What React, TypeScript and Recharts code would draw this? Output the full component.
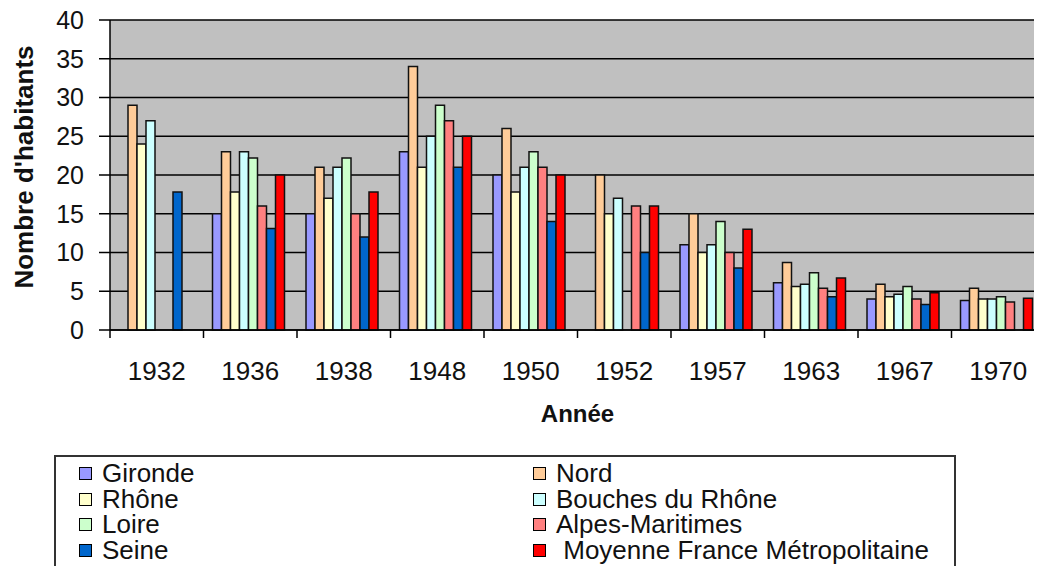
import React from "react"
import { BarChart, Bar, XAxis, YAxis, CartesianGrid } from "recharts"

// Années (catégories)
const annees = ["1932", "1936", "1938", "1948", "1950", "1952", "1957", "1963", "1967", "1970"]

// Valeurs (null = pas de barre)
const gironde = [null, 15, 15, 23, 20, null, 11, 6.1, 4.0, 3.8]
const nord = [29, 23, 21, 34, 26, 20, 15, 8.7, 5.9, 5.4]
const rhone = [24, 17.8, 17, 21, 17.8, 15, 10, 5.6, 4.3, 4.0]
const bouches = [27, 23, 21, 25, 21, 17, 11, 5.9, 4.6, 4.0]
const loire = [null, 22.2, 22.2, 29, 23, null, 14, 7.4, 5.6, 4.3]
const alpes = [null, 16, 15, 27, 21, 16, 10, 5.4, 4.0, 3.6]
const seine = [17.8, 13.1, 12, 21, 14, 10, 8, 4.3, 3.3, null]
const moyenne = [null, 20, 17.8, 25, 20, 16, 13, 6.7, 4.8, 4.1]

const yTicks = [0, 5, 10, 15, 20, 25, 30, 35, 40]

const series = [
  { key: "gironde", name: "Gironde", color: "#9999FF", values: gironde },
  { key: "nord", name: "Nord", color: "#FFCC99", values: nord },
  { key: "rhone", name: "Rhône", color: "#FFFFCC", values: rhone },
  { key: "bouches", name: "Bouches du Rhône", color: "#CCFFFF", values: bouches },
  { key: "loire", name: "Loire", color: "#CCFFCC", values: loire },
  { key: "alpes", name: "Alpes-Maritimes", color: "#FF8080", values: alpes },
  { key: "seine", name: "Seine", color: "#0066CC", values: seine },
  { key: "moyenne", name: " Moyenne France Métropolitaine", color: "#FF0000", values: moyenne },
]

// ordre de la légende (2 colonnes)
const legendLeft = ["gironde", "rhone", "loire", "seine"]
const legendRight = ["nord", "bouches", "alpes", "moyenne"]

const data = annees.map((annee, i) => {
  const row: Record<string, string | number | null> = { annee }
  series.forEach((s) => {
    row[s.key] = s.values[i]
  })
  return row
})

const FONT = "'Liberation Sans', Arial, sans-serif"
const CHART_W = 1060
const CHART_H = 566
const MARGIN = { top: 20, right: 15, left: 0, bottom: 0 }
const Y_W = 110
const PLOT_W = CHART_W - MARGIN.left - MARGIN.right - Y_W
const BAND = PLOT_W / annees.length

type TickProps = {
  x?: number
  y?: number
  index?: number
  payload?: { value: string | number }
}

// étiquette d'année centrée + petit trait entre les catégories
const XTick: React.FC<TickProps> = ({ x = 0, y = 0, index = 0, payload }) => (
  <g>
    <line x1={x - BAND / 2} x2={x - BAND / 2} y1={y} y2={y + 8} stroke="#000" strokeWidth={1.5} />
    {index === annees.length - 1 && (
      <line x1={x + BAND / 2} x2={x + BAND / 2} y1={y} y2={y + 8} stroke="#000" strokeWidth={1.5} />
    )}
    <text x={x} y={y + 50} textAnchor="middle" fontSize={26} fontFamily={FONT} fill="#111">
      {payload?.value}
    </text>
  </g>
)

const XTitle = (props: any) => {
  const vb = props.viewBox || { x: 110, y: 330, width: 935, height: 236 }
  return (
    <text
      x={vb.x + vb.width / 2}
      y={vb.y + 92}
      textAnchor="middle"
      fontSize={24}
      fontWeight="bold"
      fontFamily={FONT}
      fill="#111"
    >
      Année
    </text>
  )
}

const YTitle = (props: any) => {
  const vb = props.viewBox || { x: 0, y: 20, width: 110, height: 310 }
  const cx = vb.x + 33
  const cy = vb.y + vb.height / 2 - 8
  return (
    <text
      x={0}
      y={0}
      transform={`translate(${cx},${cy}) rotate(-90)`}
      textAnchor="middle"
      fontSize={26}
      fontWeight="bold"
      fontFamily={FONT}
      fill="#111"
    >
      Nombre d'habitants
    </text>
  )
}

const LegendItem = ({ k }: { k: string }) => {
  const s = series.find((d) => d.key === k)!
  return (
    <div style={{ display: "flex", alignItems: "center", height: 25.5 }}>
      <span
        style={{
          display: "inline-block",
          width: 11,
          height: 11,
          background: s.color,
          border: "1.5px solid #000",
          marginRight: 10,
          flexShrink: 0,
        }}
      />
      <span style={{ whiteSpace: "pre" }}>{s.name}</span>
    </div>
  )
}

export default function App() {
  return (
    <div
      style={{
        margin: "-8px -8px 0 -8px",
        width: 1042,
        height: 600,
        overflow: "hidden",
        position: "relative",
        background: "#fff",
      }}
    >
      <BarChart
        width={CHART_W}
        height={CHART_H}
        data={data}
        margin={MARGIN}
        barCategoryGap={9}
        barGap={0}
      >
        <CartesianGrid vertical={false} stroke="#000" strokeWidth={1.5} fill="#C0C0C0" fillOpacity={1} />
        <XAxis
          dataKey="annee"
          height={CHART_H - 330}
          interval={0}
          tickLine={false}
          tickSize={0}
          tickMargin={0}
          axisLine={{ stroke: "#000", strokeWidth: 1.5 }}
          tick={<XTick />}
          label={<XTitle />}
        />
        <YAxis
          width={Y_W}
          domain={[0, 40]}
          ticks={yTicks}
          interval={0}
          tickSize={11}
          tickMargin={15}
          axisLine={{ stroke: "#000", strokeWidth: 1.5 }}
          tickLine={{ stroke: "#000", strokeWidth: 1.5 }}
          tick={{ fill: "#111", fontSize: 25, fontFamily: FONT }}
          label={<YTitle />}
        />
        {series.map((s) => (
          <Bar
            key={s.key}
            dataKey={s.key}
            name={s.name}
            fill={s.color}
            stroke="#111"
            strokeWidth={1.5}
            isAnimationActive={false}
          />
        ))}
      </BarChart>
      <div
        style={{
          position: "absolute",
          left: 54,
          top: 455,
          width: 898,
          height: 130,
          border: "2px solid #333",
          background: "#fff",
          fontFamily: FONT,
          fontSize: 26,
          lineHeight: "25.5px",
          color: "#111",
          boxSizing: "content-box",
        }}
      >
        <div style={{ position: "absolute", left: 23, top: 4 }}>
          {legendLeft.map((k) => (
            <LegendItem key={k} k={k} />
          ))}
        </div>
        <div style={{ position: "absolute", left: 477, top: 4 }}>
          {legendRight.map((k) => (
            <LegendItem key={k} k={k} />
          ))}
        </div>
      </div>
    </div>
  )
}
